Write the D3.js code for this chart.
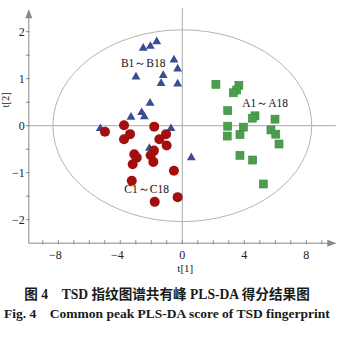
<!DOCTYPE html>
<html>
<head>
<meta charset="utf-8">
<script src="https://cdn.jsdelivr.net/npm/d3@7"></script>
<style>
  html, body { margin: 0; padding: 0; background: #fff; }
  svg { display: block; }
</style>
</head>
<body>
<svg id="chart" width="343" height="343"></svg>
<script>
// PLS-DA score data, t[1] / t[2]
const groupA_t1 = [2.17, 3.65, 3.51, 3.29, 2.93, 4.69, 4.52, 5.98, 2.93, 3.94, 5.72, 6.03, 2.90, 3.72, 6.24, 3.72, 4.54, 5.23];
const groupA_t2 = [0.88, 0.86, 0.76, 0.70, 0.32, 0.21, 0.16, 0.14, -0.01, -0.03, -0.09, -0.18, -0.22, -0.19, -0.39, -0.63, -0.73, -1.24];

const groupB_t1 = [-1.65, -2.06, -2.52, -0.54, -0.30, -1.23, -2.99, -1.37, -0.30, -2.08, -2.62, -2.45, -3.31, -5.29, -0.73, -2.12, 0.58, -1.83];
const groupB_t2 = [1.79, 1.69, 1.65, 1.40, 1.21, 1.07, 1.04, 0.90, 0.89, 0.48, 0.28, 0.19, 0.18, -0.06, -0.06, -0.48, -0.68, -0.73];

const groupC_t1 = [-4.99, -3.76, -3.37, -3.76, -1.81, -1.05, -1.48, -1.01, -3.10, -2.94, -2.04, -1.83, -1.87, -3.20, -0.54, -3.26, -1.78, -0.30];
const groupC_t2 = [-0.13, 0.01, -0.18, -0.29, -0.02, -0.18, -0.29, -0.42, -0.61, -0.68, -0.63, -0.53, -0.77, -0.82, -0.96, -1.17, -1.62, -1.52];

const groupLabels = ["A1～A18", "B1～B18", "C1～C18"];

const xTickValues = [-8, -4, 0, 4, 8];
const yTickValues = [-2, -1, 0, 1, 2];
const xDomain = [-10, 10];
const yDomain = [-2.5, 2.5];

// Hotelling T2 ellipse semi-axes in score units
const ellipseRx = [8.35];
const ellipseRy = [2.04];

const captionZh = "图 4\u2003TSD 指纹图谱共有峰 PLS-DA 得分结果图";
const captionEn = "Fig. 4\u2003Common peak PLS-DA score of TSD fingerprint";

const svg = d3.select("#chart");
const serif = "'Liberation Serif', 'Times New Roman', serif";

const x = d3.scaleLinear().domain(xDomain).range([27.3, 337.3]);
const y = d3.scaleLinear().domain(yDomain).range([243.2, 8.2]);

const axisColor = "#8a8a8a";
const lineColor = "#a8a8a8";

// zero reference lines
svg.append("line")
  .attr("x1", x(-10)).attr("x2", x(9.9))
  .attr("y1", y(0)).attr("y2", y(0))
  .attr("stroke", lineColor).attr("stroke-width", 1);
svg.append("line")
  .attr("x1", x(0)).attr("x2", x(0))
  .attr("y1", y(2.5)).attr("y2", y(-2.5))
  .attr("stroke", lineColor).attr("stroke-width", 1);

// confidence ellipse
svg.append("ellipse")
  .attr("cx", x(0)).attr("cy", y(0))
  .attr("rx", x(ellipseRx[0]) - x(0))
  .attr("ry", y(0) - y(ellipseRy[0]))
  .attr("fill", "none")
  .attr("stroke", "#b4b4b4").attr("stroke-width", 1);

// x axis line with arrow
const xAxisY = y(-2.5);
svg.append("line")
  .attr("x1", x(-10) + 1.5).attr("x2", x(10) - 2)
  .attr("y1", xAxisY).attr("y2", xAxisY)
  .attr("stroke", axisColor).attr("stroke-width", 1);
svg.append("path")
  .attr("d", `M${x(10) - 1},${xAxisY} l-9,-3.5 l0,7 z`)
  .attr("fill", axisColor);

// y axis line with arrow
const yAxisX = x(-10) + 1.5;
svg.append("line")
  .attr("x1", yAxisX).attr("x2", yAxisX)
  .attr("y1", y(2.5) + 2).attr("y2", xAxisY)
  .attr("stroke", axisColor).attr("stroke-width", 1);
svg.append("path")
  .attr("d", `M${yAxisX},${y(2.5) + 1} l-3.5,9 l7,0 z`)
  .attr("fill", axisColor);

// x ticks: one per unit
const xMinor = d3.range(-9, 10, 1);
svg.append("g").selectAll("line").data(xMinor).join("line")
  .attr("x1", d => x(d)).attr("x2", d => x(d))
  .attr("y1", xAxisY - 3).attr("y2", xAxisY + 1)
  .attr("stroke", axisColor).attr("stroke-width", 1);

// y ticks: one per half unit
const yMinor = d3.range(-2, 2.01, 0.5);
svg.append("g").selectAll("line").data(yMinor).join("line")
  .attr("x1", yAxisX - 3).attr("x2", yAxisX + 1)
  .attr("y1", d => y(d)).attr("y2", d => y(d))
  .attr("stroke", axisColor).attr("stroke-width", 1);

const fmt = d => d < 0 ? "\u2212" + Math.abs(d) : String(d);

svg.append("g").selectAll("text").data(xTickValues).join("text")
  .attr("x", d => x(d) - (d < 0 ? 3 : 0))
  .attr("y", xAxisY + 16)
  .attr("text-anchor", "middle")
  .attr("font-family", serif).attr("font-size", 12)
  .attr("fill", "#222")
  .text(fmt);

svg.append("g").selectAll("text").data(yTickValues).join("text")
  .attr("x", yAxisX - 4)
  .attr("y", d => y(d) + 4)
  .attr("text-anchor", "end")
  .attr("font-family", serif).attr("font-size", 12)
  .attr("fill", "#222")
  .text(fmt);

// axis titles
svg.append("text")
  .attr("x", x(0) + 3).attr("y", 272)
  .attr("text-anchor", "middle")
  .attr("font-family", serif).attr("font-size", 11)
  .attr("fill", "#222")
  .text("t[1]");
svg.append("text")
  .attr("transform", `translate(9,${y(0.55)}) rotate(-90)`)
  .attr("text-anchor", "middle")
  .attr("font-family", serif).attr("font-size", 10.5)
  .attr("fill", "#222")
  .text("t[2]");

// group B: triangles
const triSym = d3.symbol().type(d3.symbolTriangle).size(34);
svg.append("g").selectAll("path")
  .data(d3.zip(groupB_t1, groupB_t2)).join("path")
  .attr("transform", d => `translate(${x(d[0])},${y(d[1])})`)
  .attr("d", triSym)
  .attr("fill", "#3b4c93");

// group A: squares
const sq = 8;
svg.append("g").selectAll("rect")
  .data(d3.zip(groupA_t1, groupA_t2)).join("rect")
  .attr("x", d => x(d[0]) - sq / 2)
  .attr("y", d => y(d[1]) - sq / 2)
  .attr("width", sq).attr("height", sq)
  .attr("fill", "#4b9e4c")
  .attr("stroke", "#3d8a3e").attr("stroke-width", 0.6);

// group C: circles
svg.append("g").selectAll("circle")
  .data(d3.zip(groupC_t1, groupC_t2)).join("circle")
  .attr("cx", d => x(d[0])).attr("cy", d => y(d[1]))
  .attr("r", 5)
  .attr("fill", "#a30f0f");

// group labels, anchored in score units
const labelPos = [[5.34, 0.40], [-2.52, 1.25], [-2.30, -1.44]];
svg.append("g").selectAll("text").data(groupLabels).join("text")
  .attr("x", (d, i) => x(labelPos[i][0]))
  .attr("y", (d, i) => y(labelPos[i][1]))
  .attr("text-anchor", "middle")
  .attr("font-family", serif).attr("font-size", 11.5)
  .attr("fill", "#111")
  .text(d => d);

// caption
svg.append("text")
  .attr("x", 167).attr("y", 299)
  .attr("text-anchor", "middle")
  .attr("font-family", "'Liberation Serif', 'Noto Sans CJK SC', serif")
  .attr("font-weight", "bold").attr("font-size", 13.6)
  .attr("fill", "#1a1a1a")
  .text(captionZh);
svg.append("text")
  .attr("x", 167).attr("y", 318)
  .attr("text-anchor", "middle")
  .attr("font-family", serif)
  .attr("font-weight", "bold").attr("font-size", 13.5)
  .attr("fill", "#1a1a1a")
  .text(captionEn);
</script>
</body>
</html>
